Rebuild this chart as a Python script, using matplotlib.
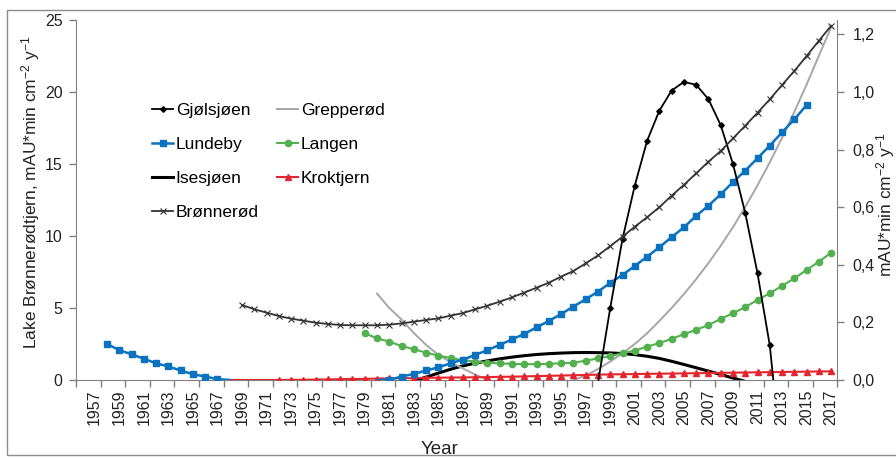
import matplotlib
matplotlib.use("Agg")
import matplotlib.pyplot as plt
import numpy as np
from matplotlib.ticker import FuncFormatter, FixedLocator
from matplotlib.patches import Rectangle

plt.rcParams['font.family'] = ['Liberation Sans', 'DejaVu Sans']
plt.rcParams['mathtext.fontset'] = 'custom'
plt.rcParams['mathtext.rm'] = 'Liberation Sans'
plt.rcParams['mathtext.it'] = 'Liberation Sans:italic'

# left axis (Lake Brønnerødtjern)
bronnerod_start = 1969
bronnerod = [5.21, 4.91, 4.68, 4.44, 4.26, 4.12, 3.98, 3.89, 3.82, 3.80,
             3.80, 3.80, 3.84, 3.93, 4.05, 4.17, 4.28, 4.47, 4.65, 4.91,
             5.16, 5.44, 5.74, 6.07, 6.41, 6.76, 7.18, 7.57,
             8.1, 8.65, 9.3, 9.95, 10.65, 11.3, 12.0, 12.8, 13.55, 14.35,
             15.16, 15.9, 16.78, 17.66, 18.56, 19.49, 20.49, 21.46, 22.5, 23.56, 24.6]

# right axis
gjolsjoen_start = 1998
gjolsjoen = [-0.01, 0.25, 0.49, 0.675, 0.83, 0.935, 1.005, 1.035, 1.025, 0.975,
             0.885, 0.75, 0.58, 0.37, 0.12, -0.30]

lundeby_start = 1958
lundeby = [0.125, 0.104, 0.089, 0.074, 0.058, 0.047, 0.033, 0.02, 0.012, 0.003, 0.0,
           None, None, None, None, None, None, None, None, None, None, None,
           0.0, 0.001, 0.012, 0.021, 0.033, 0.044, 0.058, 0.071, 0.087, 0.104,
           0.122, 0.141, 0.16, 0.183, 0.205, 0.229, 0.255, 0.28, 0.307, 0.337,
           0.365, 0.396, 0.428, 0.461, 0.496, 0.53, 0.57, 0.605, 0.645, 0.687,
           0.727, 0.77, 0.814, 0.86, 0.905, 0.955]

isesjoen_start = 1983
isesjoen = [-0.0025, 0.01, 0.024, 0.0375, 0.049, 0.0585, 0.0665, 0.0735, 0.0795, 0.0845,
            0.0885, 0.0915, 0.0935, 0.095, 0.0955, 0.095, 0.094, 0.092, 0.088, 0.0825,
            0.075, 0.065, 0.054, 0.0425, 0.031, 0.019, 0.007, -0.005]

grepperod_start = 1980
grepperod = [0.30, 0.25, 0.21, 0.163, 0.122, 0.087, 0.062, 0.04, 0.019, 0.0,
             None, None, None, None, None, None,
             0.0, 0.015, 0.038, 0.064, 0.093, 0.125, 0.162, 0.205, 0.25, 0.298,
             0.35, 0.406, 0.466, 0.531, 0.601, 0.676, 0.756, 0.841, 0.931, 1.026,
             1.126, 1.225]

langen_start = 1979
langen = [0.162, 0.145, 0.133, 0.118, 0.107, 0.095, 0.085, 0.076, 0.069, 0.064,
          0.06, 0.058, 0.056, 0.055, 0.055, 0.056, 0.058, 0.06, 0.067, 0.075,
          0.083, 0.093, 0.102, 0.116, 0.128, 0.143, 0.159, 0.174, 0.191, 0.212,
          0.232, 0.253, 0.278, 0.301, 0.327, 0.353, 0.382, 0.411, 0.442]

kroktjern_start = 1968
kroktjern = [0.0, 0.0, 0.0, 0.0,
             0.0, 0.0005, 0.001, 0.0015, 0.002, 0.003, 0.0035, 0.004, 0.005, 0.0055,
             0.006, 0.0065, 0.0075, 0.008, 0.0085, 0.009, 0.0095, 0.01, 0.011, 0.0115,
             0.0125, 0.0135, 0.0145, 0.0155, 0.0165, 0.0175, 0.0185, 0.0195, 0.02,
             0.0206, 0.0212, 0.0218, 0.0224, 0.023, 0.0236, 0.0242, 0.0248, 0.0254,
             0.026, 0.0266, 0.0272, 0.0278, 0.0284, 0.029, 0.0296, 0.0302]

label_years = list(range(1957, 2018, 2))


def xy(start, vals):
    v = np.array([np.nan if a is None else a for a in vals], dtype=float)
    return np.arange(start, start + len(v)), v


fig = plt.figure(figsize=(8.96, 4.58), dpi=100)
ax = fig.add_axes([76.3 / 896, 78 / 458, (837.3 - 76.3) / 896, 360 / 458])
ax2 = ax.twinx()

fig.patches.append(Rectangle((7 / 896, 3 / 458), 1.0, 445 / 458, transform=fig.transFigure,
                             fill=False, edgecolor='#8c8c8c', linewidth=1.0))

x, y = xy(isesjoen_start, isesjoen)
l_ise, = ax2.plot(x, y, color='black', lw=2.2, label='Isesjøen')

x, y = xy(grepperod_start, grepperod)
l_gre, = ax2.plot(x, y, color='#a6a6a6', lw=1.4, label='Grepperød')

x, y = xy(kroktjern_start, kroktjern)
l_kro, = ax2.plot(x, y, color='#e3262e', lw=1.5, marker='^', ms=4.5,
                  markevery=slice(4, None), label='Kroktjern')

x, y = xy(langen_start, langen)
l_lan, = ax2.plot(x, y, color='#52b04f', lw=1.5, marker='o', ms=4.5, label='Langen')

x, y = xy(lundeby_start, lundeby)
l_lun, = ax2.plot(x, y, color='#0a72bf', lw=1.8, marker='s', ms=4.5,
                  markevery=[i for i, v in enumerate(y) if v > 0], label='Lundeby')

x, y = xy(gjolsjoen_start, gjolsjoen)
l_gjo, = ax2.plot(x, y, color='black', lw=1.3, marker='D', ms=2.8, label='Gjølsjøen')

x, y = xy(bronnerod_start, bronnerod)
l_bro, = ax2.plot(x, np.array(y) / 20.0, color='#333333', lw=1.3, marker='x', ms=5,
                  mew=0.8, label='Brønnerød')

ax.set_xlim(1955.5, 2017.5)
ax.set_ylim(0, 25)
ax2.set_ylim(0, 1.25)

ax.set_yticks([0, 5, 10, 15, 20, 25])
ax2.set_yticks([0, 0.2, 0.4, 0.6, 0.8, 1.0, 1.2])
ax2.yaxis.set_major_formatter(FuncFormatter(lambda v, p: f"{v:.1f}".replace('.', ',')))

ax.set_xticks(label_years)
ax.set_xticklabels([str(yr) for yr in label_years], rotation=90)
ax.xaxis.set_minor_locator(FixedLocator(np.arange(1955.5, 2018, 2)))
ax.tick_params(axis='x', which='major', length=0, pad=7, labelsize=11.5, colors='#222222')
ax.tick_params(axis='x', which='minor', length=5, width=1, color='#808080', direction='out')
ax.tick_params(axis='y', length=5, width=1, color='#808080', pad=5, labelsize=11.5,
               labelcolor='#222222')
ax2.tick_params(axis='y', length=5, width=1, color='#808080', pad=6, labelsize=11.5,
                labelcolor='#222222')

for a in (ax, ax2):
    a.spines['top'].set_visible(False)
    for s in ('left', 'right', 'bottom'):
        a.spines[s].set_color('#808080')
ax.spines['right'].set_visible(False)
ax2.spines['left'].set_visible(False)
ax2.spines['bottom'].set_visible(False)

fig.text(31 / 896, 1 - 192 / 458,
         'Lake Brønnerødtjern, mAU*min cm$^{-2}$ y$^{-1}$',
         rotation=90, ha='center', va='center', fontsize=12.5, color='#222222')
fig.text(886 / 896, 1 - 205 / 458, 'mAU*min cm$^{-2}$ y$^{-1}$',
         rotation=90, ha='center', va='center', fontsize=12.5, color='#222222')
fig.text(440 / 896, 1 - 449 / 458, 'Year', ha='center', va='center',
         fontsize=13.5, color='#222222')

handles = [l_gjo, l_lun, l_ise, l_bro, l_gre, l_lan, l_kro]
leg = ax.legend(handles=handles, labels=[h.get_label() for h in handles],
                ncol=2, frameon=False, fontsize=12.5, loc='upper left',
                bbox_to_anchor=(76 / 761, 1 - 83 / 360), handlelength=1.2,
                handletextpad=0.15, labelspacing=1.08, columnspacing=1.07,
                borderaxespad=0, borderpad=0)

fig.savefig('out.png', dpi=100)
